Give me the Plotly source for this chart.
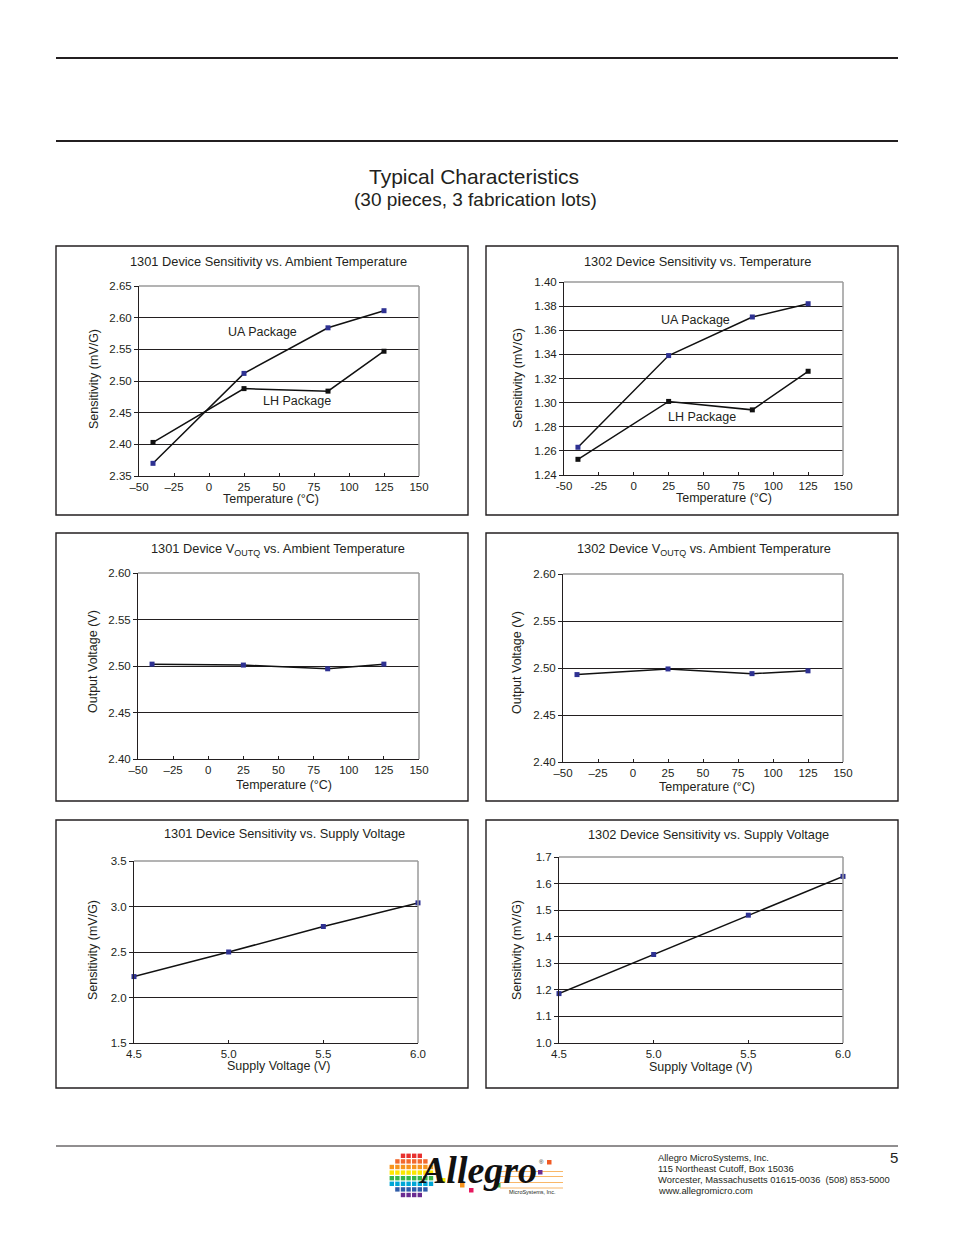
import plotly.graph_objects as go

W, H = 954, 1235
OFF = 8  # page body margin in the browser


def X(px):
    return (px - OFF) / W


def Y(py):
    return 1 - (py - OFF) / H


# ---------------- data ----------------
temp_pts = [-40, 25, 85, 125]
sens_1301_ua = [2.370, 2.512, 2.584, 2.611]
sens_1301_lh = [2.403, 2.488, 2.484, 2.547]
sens_1302_ua = [1.263, 1.339, 1.371, 1.382]
sens_1302_lh = [1.253, 1.301, 1.294, 1.326]
voutq_1301 = [2.502, 2.501, 2.497, 2.502]
voutq_1302 = [2.493, 2.499, 2.494, 2.497]
supply_v = [4.5, 5.0, 5.5, 6.0]
sens_supply_1301 = [2.23, 2.50, 2.78, 3.04]
sens_supply_1302 = [1.186, 1.333, 1.481, 1.627]

temp_ticks = [-50, -25, 0, 25, 50, 75, 100, 125, 150]
temp_labels_dash = ["\u201350", "\u201325", "0", "25", "50", "75", "100", "125", "150"]
temp_labels_hyph = ["-50", "-25", "0", "25", "50", "75", "100", "125", "150"]
supply_ticks = [4.5, 5.0, 5.5, 6.0]
supply_labels = ["4.5", "5.0", "5.5", "6.0"]

BLUE = "#2E3192"
INK = "#231F20"
FONT = "Liberation Sans, Arial, sans-serif"

panels = [
    dict(area=(139, 419, 286, 476), yr=[2.35, 2.65], dy=0.05, yf=".2f",
         xt=temp_ticks, xl=temp_labels_dash, xr=[-50, 150],
         title="1301 Device Sensitivity vs. Ambient Temperature", t_xy=(268, 262),
         ytitle="Sensitivity (mV/G)", yt_xy=(94, 379),
         xtitle="Temperature (°C)", xt_xy=(271, 499),
         series=[(temp_pts, sens_1301_ua, BLUE), (temp_pts, sens_1301_lh, "#111111")],
         labels=[("UA Package", 38, 2.578), ("LH Package", 63, 2.468)]),
    dict(area=(564, 843, 282, 475), yr=[1.24, 1.40], dy=0.02, yf=".2f",
         xt=temp_ticks, xl=temp_labels_hyph, xr=[-50, 150],
         title="1302 Device Sensitivity vs. Temperature", t_xy=(697, 262),
         ytitle="Sensitivity (mV/G)", yt_xy=(518, 378),
         xtitle="Temperature (°C)", xt_xy=(724, 498),
         series=[(temp_pts, sens_1302_ua, BLUE), (temp_pts, sens_1302_lh, "#111111")],
         labels=[("UA Package", 44, 1.3685), ("LH Package", 49, 1.288)]),
    dict(area=(138, 419, 573, 759), yr=[2.40, 2.60], dy=0.05, yf=".2f",
         xt=temp_ticks, xl=temp_labels_dash, xr=[-50, 150],
         title="1301 Device V<sub>OUTQ</sub> vs. Ambient Temperature", t_xy=(278, 549),
         ytitle="Output Voltage (V)", yt_xy=(93, 662),
         xtitle="Temperature (°C)", xt_xy=(284, 785),
         series=[(temp_pts, voutq_1301, BLUE)], labels=[]),
    dict(area=(563, 843, 574, 762), yr=[2.40, 2.60], dy=0.05, yf=".2f",
         xt=temp_ticks, xl=temp_labels_dash, xr=[-50, 150],
         title="1302 Device V<sub>OUTQ</sub> vs. Ambient Temperature", t_xy=(704, 549),
         ytitle="Output Voltage (V)", yt_xy=(517, 663),
         xtitle="Temperature (°C)", xt_xy=(707, 787),
         series=[(temp_pts, voutq_1302, BLUE)], labels=[]),
    dict(area=(134, 418, 861, 1043), yr=[1.5, 3.5], dy=0.5, yf=".1f",
         xt=supply_ticks, xl=supply_labels, xr=[4.5, 6.0],
         title="1301 Device Sensitivity vs. Supply Voltage", t_xy=(284, 833),
         ytitle="Sensitivity (mV/G)", yt_xy=(93, 950),
         xtitle="Supply Voltage (V)", xt_xy=(279, 1066),
         series=[(supply_v, sens_supply_1301, BLUE)], labels=[]),
    dict(area=(559, 843, 857, 1043), yr=[1.0, 1.7], dy=0.1, yf=".1f",
         xt=supply_ticks, xl=supply_labels, xr=[4.5, 6.0],
         title="1302 Device Sensitivity vs. Supply Voltage", t_xy=(708, 834),
         ytitle="Sensitivity (mV/G)", yt_xy=(517, 950),
         xtitle="Supply Voltage (V)", xt_xy=(701, 1067),
         series=[(supply_v, sens_supply_1302, BLUE)], labels=[]),
]

boxes = [(56, 246, 468, 515), (486, 246, 898, 515),
         (56, 533, 468, 801), (486, 533, 898, 801),
         (56, 820, 468, 1088), (486, 820, 898, 1088)]

fig = go.Figure()
layout = dict(width=W, height=H, autosize=False,
              margin=dict(l=0, r=0, t=0, b=0, pad=0, autoexpand=False),
              paper_bgcolor="white", plot_bgcolor="white", showlegend=False,
              font=dict(family=FONT, color=INK))
shapes = []
annotations = []


def note(text, px, py, size, xanchor="center", angle=0, family=FONT, color=INK):
    annotations.append(dict(text=text, x=X(px), y=Y(py), xref="paper", yref="paper",
                            showarrow=False, xanchor=xanchor, yanchor="middle", textangle=angle,
                            font=dict(size=size, family=family, color=color)))


for i, p in enumerate(panels):
    n = "" if i == 0 else str(i + 1)
    xa, ya = "x" + n, "y" + n
    x0, x1, y0, y1 = p["area"]
    layout["xaxis" + n] = dict(
        domain=[X(x0), X(x1)], anchor=ya, range=p["xr"], tickmode="array",
        tickvals=p["xt"], ticktext=p["xl"], showgrid=False, zeroline=False,
        showline=True, linecolor=INK, linewidth=1, ticks="inside", ticklen=3,
        tickcolor=INK, tickfont=dict(size=11.5, family=FONT, color=INK),
        automargin=False, fixedrange=True)
    layout["yaxis" + n] = dict(
        domain=[Y(y1), Y(y0)], anchor=xa, range=p["yr"], dtick=p["dy"], tick0=p["yr"][0],
        tickformat=p["yf"], showgrid=True, gridcolor=INK, gridwidth=1, zeroline=False,
        showline=True, linecolor=INK, linewidth=1, ticks="outside", ticklen=4,
        tickcolor=INK, tickfont=dict(size=11.5, family=FONT, color=INK),
        automargin=False, fixedrange=True)
    for xs, ys, mc in p["series"]:
        fig.add_trace(go.Scatter(
            x=xs, y=ys, xaxis=xa, yaxis=ya, mode="lines+markers", cliponaxis=False,
            line=dict(color="#111111", width=1.5),
            marker=dict(symbol="square", size=5, color=mc)))
    # gray top & right plot border
    shapes.append(dict(type="line", xref=xa + " domain", yref=ya + " domain",
                       x0=0, x1=1, y0=1, y1=1, line=dict(color="#9A9A9A", width=1.5), layer="above"))
    shapes.append(dict(type="line", xref=xa + " domain", yref=ya + " domain",
                       x0=1, x1=1, y0=0, y1=1, line=dict(color="#9A9A9A", width=1.5), layer="above"))
    note(p["title"], *p["t_xy"], 12.8)
    note(p["ytitle"], *p["yt_xy"], 12.5, angle=-90)
    note(p["xtitle"], *p["xt_xy"], 12.5)
    for txt, lx, ly in p["labels"]:
        annotations.append(dict(text=txt, x=lx, y=ly, xref=xa, yref=ya, showarrow=False,
                                xanchor="center", yanchor="middle",
                                font=dict(size=12.5, family=FONT, color=INK)))

for bx0, by0, bx1, by1 in boxes:
    shapes.append(dict(type="rect", xref="paper", yref="paper",
                       x0=X(bx0), x1=X(bx1), y0=Y(by1), y1=Y(by0),
                       line=dict(color=INK, width=1.4), fillcolor="rgba(0,0,0,0)"))

# page rules
for ry, rw in [(58, 2), (141, 2), (1146, 1)]:
    shapes.append(dict(type="line", xref="paper", yref="paper", x0=X(56), x1=X(898),
                       y0=Y(ry), y1=Y(ry), line=dict(color=INK, width=rw)))

note("Typical Characteristics", 474, 177, 21)
note("(30 pieces, 3 fabrication lots)", 475, 200, 19)

# footer address
addr = ["Allegro MicroSystems, Inc.", "115 Northeast Cutoff, Box 15036",
        "Worcester, Massachusetts 01615-0036  (508) 853-5000", "www.allegromicro.com"]
for k, line in enumerate(addr):
    note(line, 656, 1157 + k * 11.3, 9.4, xanchor="left")
note("5", 894, 1157, 15)

# logo: mosaic disc
row_colors = ["#E8312F", "#F26A2E", "#F7941D", "#FFE600", "#39B54A", "#00A6D6", "#2E5BA8", "#6A2C91"]
cx, cy, r = 412, 1176, 21.5
step = 5.6
for row in range(8):
    for col in range(8):
        sx = cx - 4 * step + col * step
        sy = cy - 4 * step + row * step
        mx, my = sx + step / 2, sy + step / 2
        if (mx - cx) ** 2 + (my - cy) ** 2 <= r * r:
            shapes.append(dict(type="rect", xref="paper", yref="paper",
                               x0=X(sx), x1=X(sx + step - 1.2), y0=Y(sy + step - 1.2), y1=Y(sy),
                               line=dict(width=0), fillcolor=row_colors[row]))
# orange rules
for oy in [1171.5, 1176.5, 1182.5, 1188]:
    shapes.append(dict(type="line", xref="paper", yref="paper", x0=X(500), x1=X(563),
                       y0=Y(oy), y1=Y(oy), line=dict(color="#F7A541", width=0.8)))
for sx, sy, col in [(547, 1160, "#F15A24"), (538, 1170, "#6A2C91"), (496, 1183, "#39B54A"),
                    (469, 1188, "#E6195E"), (460, 1183, "#F7941D"), (441, 1178, "#FFE600")]:
    shapes.append(dict(type="rect", xref="paper", yref="paper", x0=X(sx), x1=X(sx + 4.5),
                       y0=Y(sy + 4.5), y1=Y(sy), line=dict(width=0), fillcolor=col))
note("<b><i>Allegro</i></b>", 478, 1170, 38, family="Liberation Serif, Times New Roman, serif",
     color="#111111")
note("®", 541, 1162, 6)
note("MicroSystems, Inc.", 532, 1192, 5.5)

layout["shapes"] = shapes
layout["annotations"] = annotations
fig.update_layout(**layout)
fig.write_html("out.html")
